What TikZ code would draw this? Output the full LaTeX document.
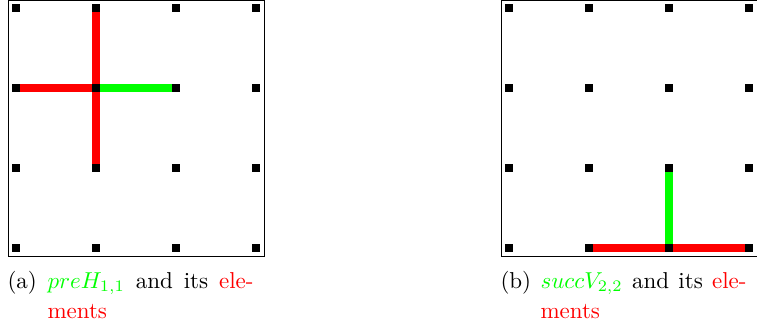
\documentclass[tikz,border=0pt]{standalone}
\usetikzlibrary{backgrounds}
\begin{document}
\begin{tikzpicture}[x=1pt,y=-1pt,
  gdot/.style={shape=rectangle,fill=black,draw=none,minimum size=8pt,inner sep=0pt},
  framebox/.style={draw=black,line width=0.8pt},
  seg/.style={line width=8pt},
  captext/.style={scale=2.3,transform shape,anchor=base west,inner sep=0pt,outer sep=0pt}]
\useasboundingbox (0,0) rectangle (757,326);
% frames
\draw[framebox] (8,0) rectangle (264,256);
\draw[framebox] (501,0) rectangle (757,256);
% grid dots
\foreach \i in {0,...,3}{
  \foreach \j in {0,...,3}{
    \node[gdot] (L-\i-\j) at ({16+80*\i},{8+80*\j}) {};
    \node[gdot] (R-\i-\j) at ({509+80*\i},{8+80*\j}) {};
  }
}
% segments
\begin{scope}[on background layer]
\draw[seg,red] (L-0-1.east) -- (L-1-1.west);
\draw[seg,red] (L-1-0.south) -- (L-1-2.north);
\draw[seg,green] (L-1-1.east) -- (L-2-1.west);
\draw[seg,green] (R-2-2.south) -- (R-2-3.north);
\draw[seg,red] (R-1-3.east) -- (R-2-3.west);
\draw[seg,red] (R-2-3.east) -- (R-3-3.west);
\end{scope}
% captions
\node[captext] (capA1) at (7.5,288) {\makebox[107pt][s]{\makebox[17.4pt][l]{(a)}\textcolor{green}{$preH_{1,1}$} and its \textcolor{red}{ele-}}};
\node[captext] (capA2) at (47.5,318) {\textcolor{red}{ments}};
\node[captext] (capB1) at (500.5,288) {\makebox[107pt][s]{\makebox[17.4pt][l]{(b)}\textcolor{green}{$succV_{2,2}$} and its \textcolor{red}{ele-}}};
\node[captext] (capB2) at (540.5,318) {\textcolor{red}{ments}};
\end{tikzpicture}
\end{document}
